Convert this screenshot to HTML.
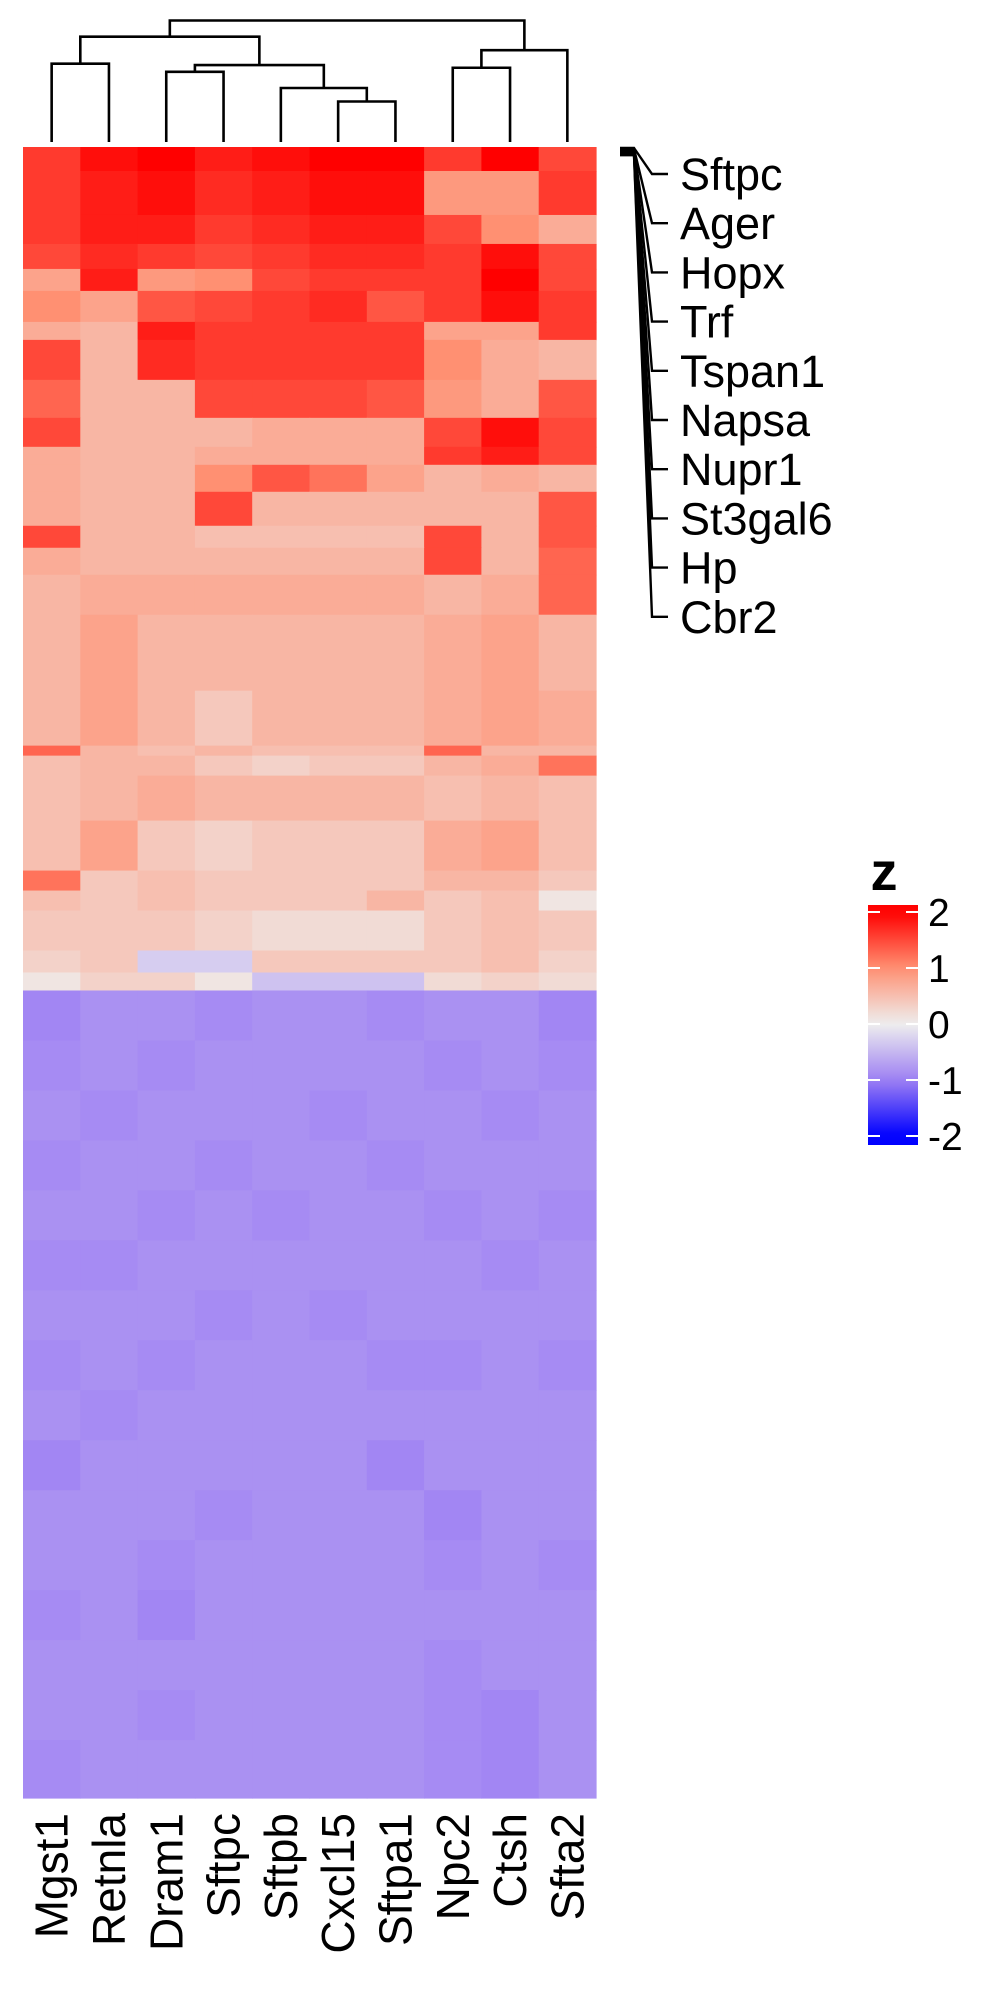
<!DOCTYPE html>
<html><head><meta charset="utf-8"><style>
body{margin:0;background:#fff}
svg text{font-family:"Liberation Sans",sans-serif}
</style></head><body>
<svg id="chart" width="1000" height="2000" viewBox="0 0 1000 2000" xmlns="http://www.w3.org/2000/svg">
<g id="cells"></g>
<g id="dendro"></g>
<g id="collabels"></g>
<g id="rowlabels"></g>
<g id="legend"></g>
</svg>
<script>
const columns=["Mgst1","Retnla","Dram1","Sftpc","Sftpb","Cxcl15","Sftpa1","Npc2","Ctsh","Sfta2"];
const markedGenes=["Sftpc","Ager","Hopx","Trf","Tspan1","Napsa","Nupr1","St3gal6","Hp","Cbr2"];
const legendTicks=[2,1,0,-1,-2];
// gene counts per row band
const bandSizes=[24,44,29,25,22,31,18,40,38,29,18,27,34,22,27,40,76,55,10,20,45,50,20,20,40,22,18,
 50,50,50,50,50,50,50,50,50,50,50,50,50,50,50,58];
const bandValues=[
[1.6,1.9,2.0,1.8,1.9,2.0,2.0,1.6,2.1,1.5],
[1.6,1.8,1.9,1.7,1.8,1.9,1.9,0.9,0.9,1.6],
[1.6,1.8,1.8,1.6,1.7,1.8,1.8,1.5,1.0,0.7],
[1.5,1.7,1.6,1.5,1.6,1.7,1.7,1.6,1.9,1.5],
[0.8,1.8,0.9,1.0,1.5,1.6,1.6,1.6,2.0,1.5],
[1.0,0.8,1.4,1.5,1.6,1.7,1.4,1.6,1.9,1.6],
[0.7,0.6,1.8,1.6,1.6,1.6,1.6,0.8,0.8,1.6],
[1.5,0.6,1.7,1.6,1.6,1.6,1.6,1.0,0.7,0.6],
[1.3,0.6,0.6,1.5,1.5,1.5,1.4,0.9,0.7,1.4],
[1.5,0.6,0.6,0.6,0.7,0.7,0.7,1.5,1.9,1.5],
[0.7,0.6,0.6,0.7,0.7,0.7,0.7,1.6,1.8,1.5],
[0.7,0.6,0.6,1.0,1.4,1.2,0.8,0.6,0.7,0.6],
[0.7,0.6,0.6,1.5,0.6,0.6,0.6,0.6,0.6,1.4],
[1.5,0.6,0.6,0.5,0.5,0.5,0.5,1.5,0.6,1.4],
[0.7,0.6,0.6,0.6,0.6,0.6,0.6,1.5,0.6,1.3],
[0.6,0.7,0.7,0.7,0.7,0.7,0.7,0.6,0.7,1.3],
[0.6,0.8,0.6,0.6,0.6,0.6,0.6,0.7,0.8,0.6],
[0.6,0.8,0.6,0.4,0.6,0.6,0.6,0.7,0.8,0.7],
[1.3,0.6,0.5,0.6,0.5,0.5,0.5,1.3,0.6,0.6],
[0.5,0.6,0.6,0.4,0.3,0.4,0.4,0.6,0.7,1.2],
[0.5,0.6,0.7,0.6,0.6,0.6,0.6,0.5,0.6,0.5],
[0.5,0.8,0.4,0.3,0.4,0.4,0.4,0.7,0.8,0.5],
[1.2,0.4,0.5,0.4,0.4,0.4,0.4,0.6,0.6,0.4],
[0.5,0.4,0.5,0.4,0.4,0.4,0.6,0.4,0.5,0.1],
[0.4,0.4,0.4,0.3,0.2,0.2,0.2,0.4,0.5,0.4],
[0.3,0.4,-0.3,-0.3,0.4,0.4,0.4,0.4,0.5,0.3],
[0.1,0.3,0.3,0.1,-0.4,-0.4,-0.4,0.2,0.3,0.2],
[-0.95,-0.85,-0.85,-0.9,-0.85,-0.85,-0.9,-0.85,-0.85,-0.95],
[-0.9,-0.85,-0.9,-0.85,-0.85,-0.85,-0.85,-0.9,-0.85,-0.9],
[-0.85,-0.9,-0.85,-0.85,-0.85,-0.9,-0.85,-0.85,-0.9,-0.85],
[-0.9,-0.85,-0.85,-0.9,-0.85,-0.85,-0.9,-0.85,-0.85,-0.85],
[-0.85,-0.85,-0.9,-0.85,-0.9,-0.85,-0.85,-0.9,-0.85,-0.9],
[-0.9,-0.9,-0.85,-0.85,-0.85,-0.85,-0.85,-0.85,-0.9,-0.85],
[-0.85,-0.85,-0.85,-0.9,-0.85,-0.9,-0.85,-0.85,-0.85,-0.85],
[-0.9,-0.85,-0.9,-0.85,-0.85,-0.85,-0.9,-0.9,-0.85,-0.9],
[-0.85,-0.9,-0.85,-0.85,-0.85,-0.85,-0.85,-0.85,-0.85,-0.85],
[-0.95,-0.85,-0.85,-0.85,-0.85,-0.85,-0.95,-0.85,-0.85,-0.85],
[-0.85,-0.85,-0.85,-0.9,-0.85,-0.85,-0.85,-0.95,-0.85,-0.85],
[-0.85,-0.85,-0.9,-0.85,-0.85,-0.85,-0.85,-0.9,-0.85,-0.9],
[-0.9,-0.85,-0.95,-0.85,-0.85,-0.85,-0.85,-0.85,-0.85,-0.85],
[-0.85,-0.85,-0.85,-0.85,-0.85,-0.85,-0.85,-0.9,-0.85,-0.85],
[-0.85,-0.85,-0.9,-0.85,-0.85,-0.85,-0.85,-0.9,-0.95,-0.85],
[-0.9,-0.85,-0.85,-0.85,-0.85,-0.85,-0.85,-0.9,-0.95,-0.85]];
// dendrogram merges: [left node, right node, height]; leaves 0..9, merged nodes 10..
const merges=[[0,1,0.58],[2,3,0.52],[5,6,0.30],[4,12,0.40],[11,13,0.57],[10,14,0.78],[7,8,0.55],[16,9,0.68],[15,17,0.90]];

const NS="http://www.w3.org/2000/svg";
function mk(t,a,p){const e=document.createElementNS(NS,t);for(const k in a)e.setAttribute(k,a[k]);p.appendChild(e);return e;}
const X0=23,X1=596,Y0=147,Y1=1798;
const colW=(X1-X0)/columns.length;
const totalGenes=bandSizes.reduce((a,b)=>a+b,0);
const xCol=i=>X0+i*colW;
const yGene=g=>Y0+g*(Y1-Y0)/totalGenes;
const stops=[[-2,[0,0,255]],[-1,[158,128,243]],[0,[238,238,238]],[1,[255,144,114]],[2,[255,0,0]]];
function color(v){v=Math.max(-2,Math.min(2,v));for(let i=0;i<stops.length-1;i++){const[a,ca]=stops[i],[b,cb]=stops[i+1];if(v<=b){const t=(v-a)/(b-a);return"rgb("+ca.map((c,k)=>Math.round(c+(cb[k]-c)*t)).join(",")+")";}}return"rgb(255,0,0)";}
// cells
const cells=document.getElementById('cells');
let g0=0;
bandSizes.forEach((n,b)=>{
 columns.forEach((c,i)=>{
  const r=mk('rect',{x:xCol(i),y:yGene(g0),width:colW+0.6,height:yGene(g0+n)-yGene(g0)+0.6,fill:color(bandValues[b][i])},cells);
  
  
 });
 g0+=n;
});
// dendrogram
const dendro=document.getElementById('dendro');
const hY=h=>142-h*135;
const nodes=columns.map((c,i)=>({x:xCol(i)+colW/2,h:0}));
merges.forEach(([a,b,h],k)=>{
 const A=nodes[a],B=nodes[b];
 const p=mk('path',{d:`M${A.x},${hY(A.h)}V${hY(h)}H${B.x}V${hY(B.h)}`,fill:'none',stroke:'#000','stroke-width':2.6},dendro);
 
 
 nodes.push({x:(A.x+B.x)/2,h:h});
});
// column labels
const cl=document.getElementById('collabels');
columns.forEach((c,i)=>{
 const x=xCol(i)+colW/2+16;
 const t=mk('text',{x:x,y:1813,transform:`rotate(-90 ${x} 1813)`,'text-anchor':'end','font-size':46},cl);
 t.textContent=c;
 
 
});
// row mark labels
const rl=document.getElementById('rowlabels');
markedGenes.forEach((g,i)=>{
 const ly=174+i*49.2, ry=148+i*0.8;
 const p=mk('path',{d:`M620,${ry}H634L652,${ly}H668`,fill:'none',stroke:'#000','stroke-width':2.4},rl);
 
 
 const t=mk('text',{x:680,y:ly+16,'font-size':45},rl);
 t.textContent=g;
 
 
});
// legend
const lg=document.getElementById('legend');
const defs=mk('defs',{},lg);
const grad=mk('linearGradient',{id:'zg',x1:0,y1:0,x2:0,y2:1},defs);
const LT=905,LB=1145,lv=v=>912+(2-v)*56;
for(let k=0;k<=20;k++){const y=LT+k*(LB-LT)/20;const v=2-(y-912)/56;mk('stop',{offset:k/20,'stop-color':color(v)},grad);}
const bar=mk('rect',{x:868,y:LT,width:50,height:LB-LT,fill:'url(#zg)'},lg);


const title=mk('text',{x:884,y:890,'font-size':54,'font-weight':'bold','text-anchor':'middle'},lg);
title.textContent='z';


legendTicks.forEach(v=>{
 const y=lv(v);
 mk('line',{x1:868,x2:880,y1:y,y2:y,stroke:'#fff','stroke-width':2},lg);
 mk('line',{x1:906,x2:918,y1:y,y2:y,stroke:'#fff','stroke-width':2},lg);
 const t=mk('text',{x:928,y:y+14,'font-size':39},lg);
 t.textContent=String(v);
 
 
});
</script>
</body></html>
